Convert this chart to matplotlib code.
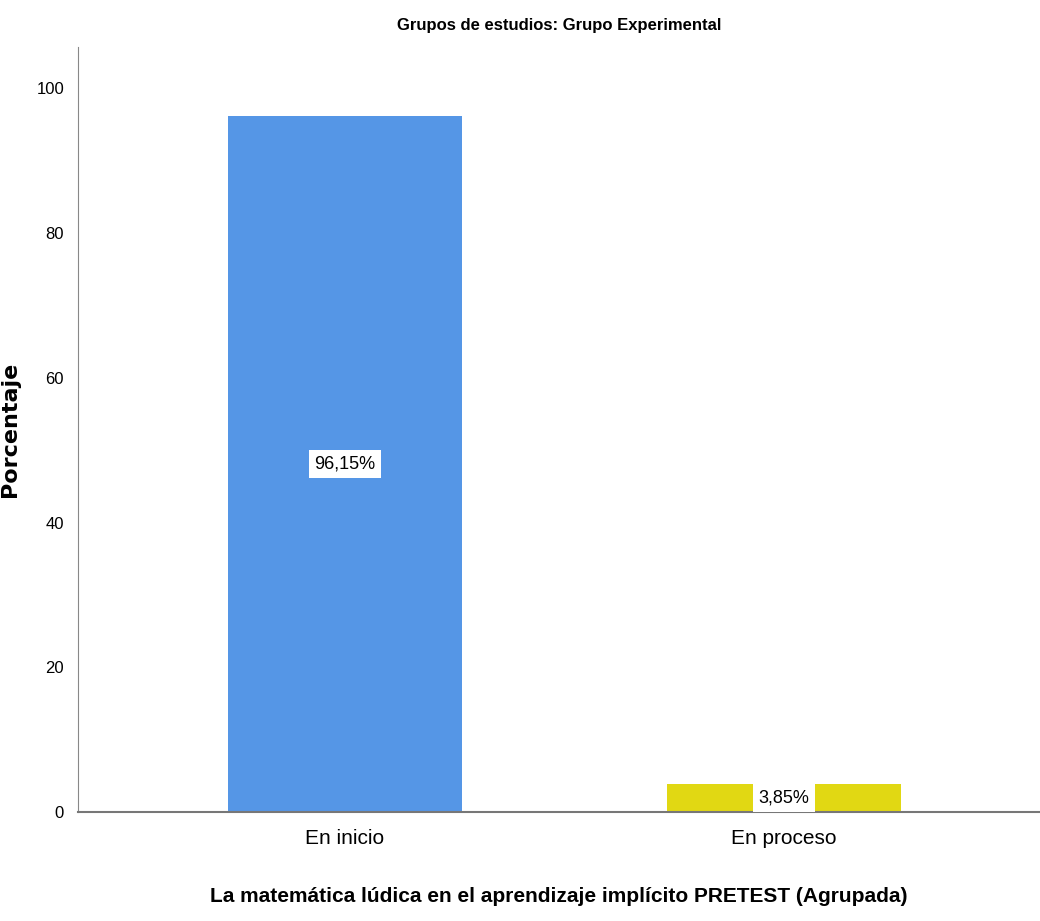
import numpy as np
import matplotlib
matplotlib.use('Agg')
import matplotlib.pyplot as plt

plt.rcParams['font.family'] = ['Liberation Sans', 'DejaVu Sans']

categorias = ['En inicio', 'En proceso']
porcentajes = [96.15, 3.85]
etiquetas = ['96,15%', '3,85%']
colores = ['#5596e6', '#e1d813']

fig = plt.figure(figsize=(10.4, 9.21), dpi=100)
ax = fig.add_axes([0.075, 0.1183, 0.925, 0.8307])

x = np.arange(len(categorias))
ax.bar(x, porcentajes, width=0.535, color=colores)
for xi, v, t in zip(x, porcentajes, etiquetas):
    ax.text(xi, v / 2, t, ha='center', va='center', fontsize=13,
            bbox=dict(facecolor='white', edgecolor='none', pad=4))

ax.set_xlim(-0.608, 1.583)
ax.set_ylim(0, 105.7)
ax.set_yticks([0, 20, 40, 60, 80, 100])
ax.set_xticks(x)
ax.set_xticklabels(categorias, fontsize=15)
ax.tick_params(axis='y', labelsize=12, length=0, pad=10)
ax.tick_params(axis='x', length=0, pad=12)
for s in ['top', 'right']:
    ax.spines[s].set_visible(False)
ax.spines['left'].set_color('#888888')
ax.spines['bottom'].set_color('#777777')
ax.spines['bottom'].set_linewidth(1.5)

ax.set_title('Grupos de estudios: Grupo Experimental', fontsize=12, fontweight='bold', pad=12)
ax.set_ylabel('Porcentaje', fontsize=16, fontweight='bold', family='DejaVu Sans')
ax.yaxis.set_label_coords(-0.06, 0.5)
ax.set_xlabel('La matemática lúdica en el aprendizaje implícito PRETEST (Agrupada)',
              fontsize=15, fontweight='bold', labelpad=28)

fig.savefig('out.png', dpi=100)
